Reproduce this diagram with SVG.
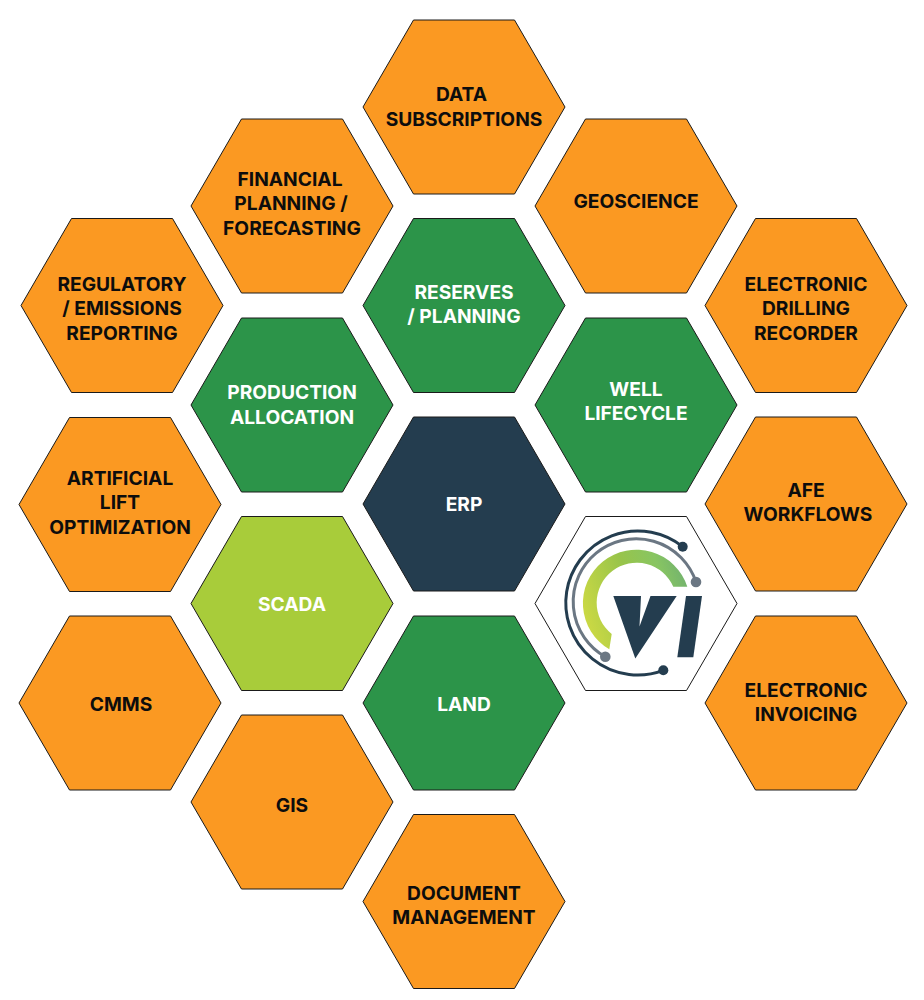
<svg xmlns="http://www.w3.org/2000/svg" width="924" height="1000" viewBox="0 0 924 1000">
<style>
.h{stroke:#1a1a1a;stroke-width:1;stroke-linejoin:miter}
.o{fill:#fb9922}.g{fill:#2c9449}.n{fill:#243d4f}.l{fill:#a8cc3a}.w{fill:#fff}
text{font-family:"Inter","Liberation Sans",sans-serif;font-weight:700;font-size:19.200px;text-anchor:middle}
.d{fill:#0d0d0d}.t{fill:#fff}
</style>
<defs>
<polygon id="hex" points="-101,0 -50.500,-87 50.500,-87 101,0 50.500,87 -50.500,87"/>
<linearGradient id="arc" gradientUnits="userSpaceOnUse" x1="584" y1="610" x2="690" y2="575">
<stop offset="0" stop-color="#c9d844"/><stop offset=".45" stop-color="#98c44a"/><stop offset=".75" stop-color="#88c562"/><stop offset="1" stop-color="#6fb070"/>
</linearGradient>
</defs>
<rect width="924" height="1000" fill="#fff"/>
<g id="connectors"/>
<g id="data"><use href="#hex" x="464" y="107" class="h o"/><text class="d" x="461.500" y="101">DATA</text><text class="d" x="464" y="125.500">SUBSCRIPTIONS</text></g>
<g id="financial"><use href="#hex" x="292" y="206" class="h o"/><text class="d" x="290" y="185.500">FINANCIAL</text><text class="d" x="291" y="210">PLANNING /</text><text class="d" x="292" y="234.500">FORECASTING</text></g>
<g id="geoscience"><use href="#hex" x="636" y="206" class="h o"/><text class="d" x="636" y="208">GEOSCIENCE</text></g>
<g id="regulatory"><use href="#hex" x="122" y="305.500" class="h o"/><text class="d" x="122" y="290.500">REGULATORY</text><text class="d" x="122" y="315">/ EMISSIONS</text><text class="d" x="122" y="339.500">REPORTING</text></g>
<g id="reserves"><use href="#hex" x="464" y="305.500" class="h g"/><text class="t" x="464" y="298.500">RESERVES</text><text class="t" x="464" y="323">/ PLANNING</text></g>
<g id="drilling"><use href="#hex" x="806" y="305.500" class="h o"/><text class="d" x="806" y="290.500">ELECTRONIC</text><text class="d" x="806" y="315">DRILLING</text><text class="d" x="806" y="339.500">RECORDER</text></g>
<g id="production"><use href="#hex" x="292" y="405" class="h g"/><text class="t" x="292" y="399">PRODUCTION</text><text class="t" x="292" y="423.500">ALLOCATION</text></g>
<g id="well"><use href="#hex" x="636" y="405" class="h g"/><text class="t" x="636" y="395.500">WELL</text><text class="t" x="636" y="420">LIFECYCLE</text></g>
<g id="artificial"><use href="#hex" x="120" y="504.500" class="h o"/><text class="d" x="120" y="484.500">ARTIFICIAL</text><text class="d" x="120" y="509">LIFT</text><text class="d" x="120" y="533.500">OPTIMIZATION</text></g>
<g id="erp"><use href="#hex" x="464" y="504" class="h n"/><text class="t" x="464" y="510.500">ERP</text></g>
<g id="afe"><use href="#hex" x="806" y="504" class="h o"/><text class="d" x="806" y="496.500">AFE</text><text class="d" x="808" y="521">WORKFLOWS</text></g>
<g id="scada"><use href="#hex" x="292" y="603.500" class="h l"/><text class="t" x="292" y="611">SCADA</text></g>
<g id="vi">
<use href="#hex" x="636" y="603.500" class="h w"/>
<path d="M682.700 546.700A72 72 0 1 0 663.300 670.300" fill="none" stroke="#243d4f" stroke-width="3"/>
<path d="M696 582A63 63 0 1 0 605.300 656.700" fill="none" stroke="#6b7783" stroke-width="3"/>
<path d="M687.300 586.700A53.500 53.500 0 1 0 609.300 649.300L611.700 634A40 40 0 1 1 673.300 586.700Z" fill="url(#arc)"/>
<circle cx="682.700" cy="546.700" r="5" fill="#243d4f"/>
<circle cx="696" cy="582" r="5.300" fill="#6b7783"/>
<circle cx="605.300" cy="656.700" r="5.300" fill="#6b7783"/>
<circle cx="663.300" cy="670.300" r="5" fill="#243d4f"/>
<polygon points="613.300,596 641,596 639.500,626.500 650.500,596 676.700,596 635.300,658.500" fill="#243d4f"/>
<polygon points="686,596 702,596 693.300,657.300 677.300,657.300" fill="#243d4f"/>
</g>
<g id="cmms"><use href="#hex" x="120" y="703" class="h o"/><text class="d" x="121" y="710.500">CMMS</text></g>
<g id="land"><use href="#hex" x="464" y="703" class="h g"/><text class="t" x="464" y="710.500">LAND</text></g>
<g id="invoicing"><use href="#hex" x="806" y="703" class="h o"/><text class="d" x="806" y="696.500">ELECTRONIC</text><text class="d" x="806" y="721">INVOICING</text></g>
<g id="gis"><use href="#hex" x="292" y="802" class="h o"/><text class="d" x="292" y="811.500">GIS</text></g>
<g id="document"><use href="#hex" x="464" y="901.500" class="h o"/><text class="d" x="464" y="899.500">DOCUMENT</text><text class="d" x="464" y="924">MANAGEMENT</text></g>
</svg>
